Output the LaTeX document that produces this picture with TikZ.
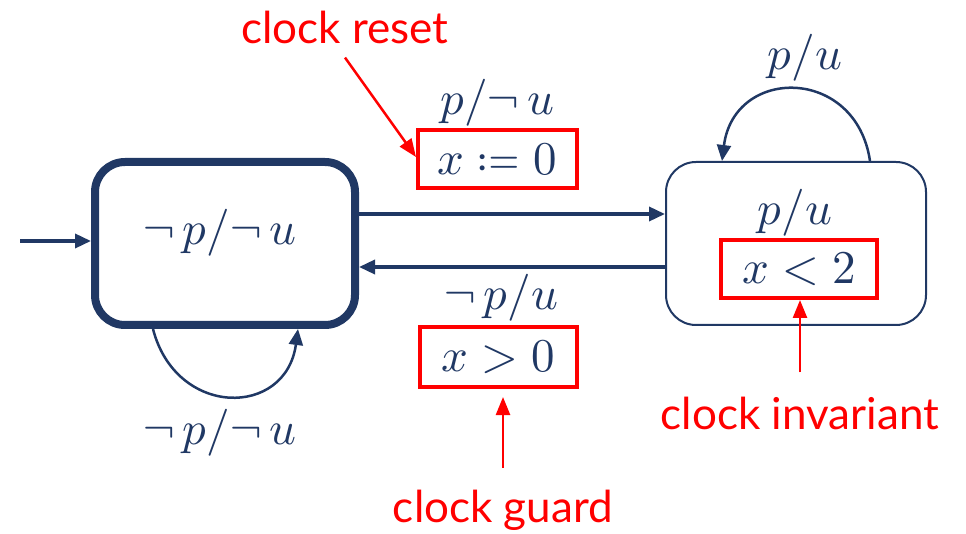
\documentclass[tikz,border=0pt]{standalone}
\usepackage{fontspec}
\usepackage{mathtools}
\usepackage{unicode-math}
\setmathfont{Latin Modern Math}
\newfontfamily\annfont{Lato}
\usetikzlibrary{arrows.meta,calc}
\definecolor{navy}{HTML}{203864}
\definecolor{hired}{HTML}{FF0000}
\tikzset{
  statebox/.style={draw=navy,rounded corners=30pt,minimum width=260pt,minimum height=163pt,inner sep=0pt},
  mathlab/.style={text=navy,font=\fontsize{47}{50}\selectfont,inner sep=0pt},
  redbox/.style={draw=hired,line width=4pt,text=navy,font=\fontsize{47}{50}\selectfont,inner sep=0pt},
  annot/.style={text=hired,font=\annfont\fontsize{44}{48}\selectfont,inner sep=0pt},
  trans/.style={draw=navy,line width=3.5pt,-{Triangle[length=16pt,width=14pt]}},
  loopline/.style={draw=navy,line width=2.5pt,-{Triangle[length=16pt,width=14pt]}},
  redarrow/.style={draw=hired,line width=2.5pt,-{Triangle[length=18pt,width=14pt]}}
}
\begin{document}
\begin{tikzpicture}[x=1pt,y=-1pt]
\useasboundingbox (0,0) rectangle (966,534);
% states
\node[statebox,line width=8pt] (L) at (225,243.5) {};
\node[statebox,line width=2pt] (R) at (796,243.5) {};
\node[mathlab] (Llab) at (220,233) {$\neg\, p/\neg\, u$};
\node[mathlab] (Rlab) at (795,213) {$p/u$};
\node[redbox,minimum width=156pt,minimum height=58pt] (inv) at (799,269) {$x<2$};
% initial arrow
\coordinate (init) at (20,241);
\draw[trans] (init) -- (init -| L.west);
% transitions
\draw[trans] ($(L.east)+(0,-29.5)$) -- ($(R.west)+(0,-29.5)$);
\draw[trans] ($(R.west)+(0,23.5)$) -- ($(L.east)+(0,23.5)$);
% transition labels
\node[mathlab] (t1) at (497,103) {$p/\neg\, u$};
\node[redbox,minimum width=159pt,minimum height=58pt] (reset) at (497.5,159) {$x\coloneqq 0$};
\node[mathlab] (t2) at (501,298) {$\neg\, p/u$};
\node[redbox,minimum width=157pt,minimum height=60pt] (guard) at (498.5,357) {$x>0$};
% self loops
\draw[loopline] ($(L.south)+(-72,0)$) .. controls (176,418) and (286,418) .. ($(L.south)+(73,0)$);
\node[mathlab] (Lloop) at (220,433) {$\neg\, p/\neg\, u$};
\draw[loopline] ($(R.north)+(74,0)$) .. controls (856,66) and (734,66) .. ($(R.north)+(-74,0)$);
\node[mathlab] (Rloop) at (805,58) {$p/u$};
% annotations
\node[annot] (cr) at (345,27) {clock reset};
\draw[redarrow] ($(cr.south)+(0,14)$) -- ($(reset.west)+(0,-2)$);
\node[annot] (cg) at (503,510) {clock guard};
\draw[redarrow] ($(cg.north)+(0,-22)$) -- ($(cg.north |- guard.south)+(0,8)$);
\node[annot] (ci) at (800,413) {clock invariant};
\draw[redarrow] ($(ci.north)+(0,-24)$) -- (ci.north |- inv.south);
\end{tikzpicture}
\end{document}
